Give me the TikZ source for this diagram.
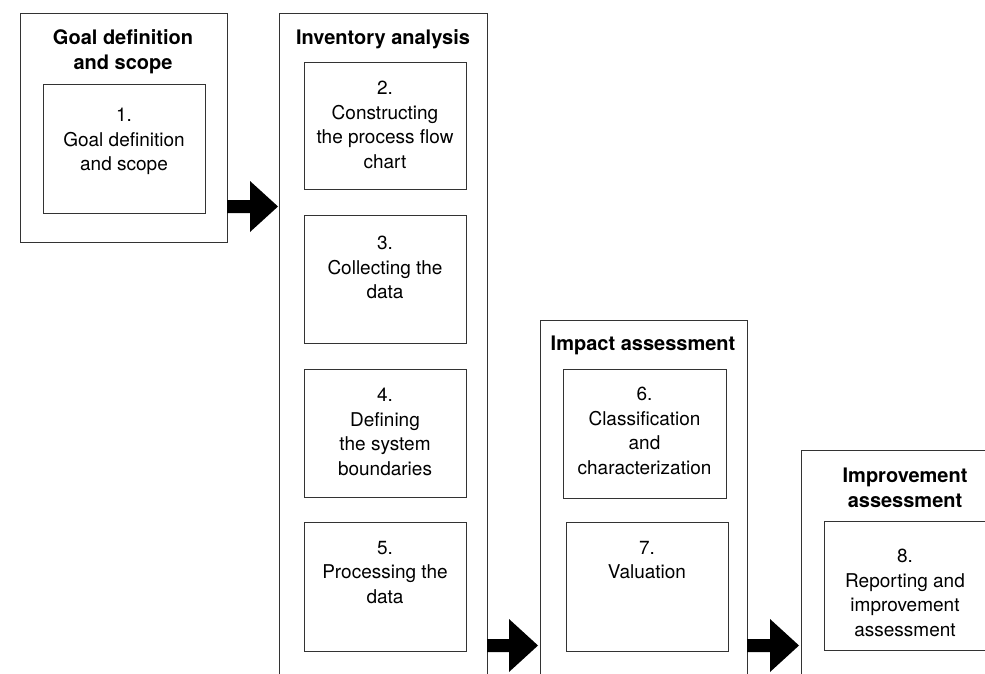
\documentclass[tikz,border=0pt]{standalone}
\usepackage{fontspec}
\setmainfont{TeX Gyre Heros}
\begin{document}
\begin{tikzpicture}[x=1pt,y=-1pt,
  frame/.style={draw=black!80, line width=1.3pt, rectangle, inner sep=0pt, anchor=north west},
  txt/.style={align=center, inner sep=0pt, anchor=north, font=\fontsize{19}{24.5}\selectfont},
  ttl/.style={align=center, inner sep=0pt, anchor=north, font=\fontsize{20}{25}\selectfont\bfseries},
  blk/.style={fill=black, draw=none}]
\useasboundingbox (0,0) rectangle (985,674);
\clip (0,0) rectangle (985,674);

% outer frames
\node[frame, minimum width=207pt, minimum height=229pt] (A) at (20,13) {};
\node[frame, minimum width=208pt, minimum height=700pt] (B) at (279,13) {};
\node[frame, minimum width=207pt, minimum height=400pt] (C) at (540,320) {};
\node[frame, minimum width=207pt, minimum height=300pt] (D) at (801,450) {};

% titles
\node[ttl] (tA) at (123,29.5) {Goal definition\\and scope};
\node[ttl] (tB) at (383,29.5) {Inventory analysis};
\node[ttl] (tC) at (643,335.5) {Impact assessment};
\node[ttl] (tD) at (905,467.5) {Improvement\\assessment};

% inner boxes
\node[frame, minimum width=162pt, minimum height=129pt] (b1) at (43,84) {};
\node[frame, minimum width=162pt, minimum height=127pt] (b2) at (304,62) {};
\node[frame, minimum width=162pt, minimum height=128pt] (b3) at (304,215) {};
\node[frame, minimum width=162pt, minimum height=128pt] (b4) at (304,369) {};
\node[frame, minimum width=162pt, minimum height=129pt] (b5) at (304,522) {};
\node[frame, minimum width=163pt, minimum height=129pt] (b6) at (563,369) {};
\node[frame, minimum width=162pt, minimum height=129pt] (b7) at (566,522) {};
\node[frame, minimum width=162pt, minimum height=129pt] (b8) at (824,521) {};

% inner texts
\node[txt] (t1) at (124,108) {1.\\Goal definition\\and scope};
\node[txt] (t2) at (385,81) {2.\\Constructing\\the process flow\\chart};
\node[txt] (t3) at (385,236) {3.\\Collecting the\\data};
\node[txt] (t4) at (385,388) {4.\\Defining\\the system\\boundaries};
\node[txt] (t5) at (385,541) {5.\\Processing the\\data};
\node[txt] (t6) at (644.5,387) {6.\\Classification\\and\\characterization};
\node[txt] (t7) at (647,541) {7.\\Valuation};
\node[txt] (t8) at (905,549) {8.\\Reporting and\\improvement\\assessment};

% block arrows
\fill[blk] (227,200) -- (250,200) -- (250,181) -- (278,206.5) -- (250,232) -- (250,213) -- (227,213) -- cycle;
\fill[blk] (487,639) -- (509,639) -- (509,619) -- (538,645.5) -- (509,672) -- (509,652) -- (487,652) -- cycle;
\fill[blk] (747,639) -- (770,639) -- (770,619) -- (799,645.5) -- (770,672) -- (770,652) -- (747,652) -- cycle;
\end{tikzpicture}
\end{document}
